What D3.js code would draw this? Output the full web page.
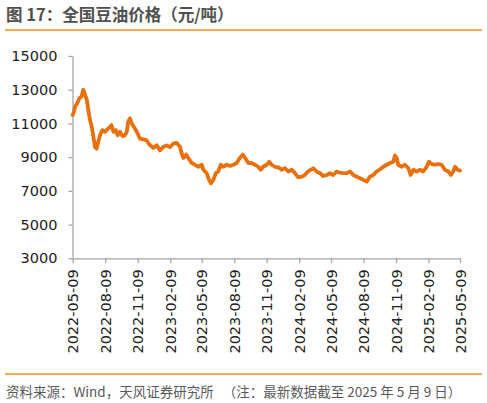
<!DOCTYPE html>
<html>
<head>
<meta charset="utf-8">
<script src="https://cdn.jsdelivr.net/npm/d3@7.9.0/dist/d3.min.js"></script>
<style>
  body { margin: 0; background: #fff; }
  svg { display: block; }
</style>
</head>
<body>
<div id="chart"></div>
<script>
// 全国豆油价格 (元/吨)
const dates = [
  '2022-05-09','2022-05-13','2022-05-16','2022-05-22','2022-05-28','2022-06-03','2022-06-08','2022-06-13',
  '2022-06-18','2022-06-22','2022-06-27','2022-07-02','2022-07-06','2022-07-11','2022-07-16','2022-07-20',
  '2022-07-27','2022-08-01','2022-08-08','2022-08-15','2022-08-23','2022-08-27','2022-09-01','2022-09-08',
  '2022-09-13','2022-09-20','2022-09-27','2022-10-04','2022-10-09','2022-10-13','2022-10-18','2022-10-23',
  '2022-10-29','2022-11-04','2022-11-11','2022-11-15','2022-11-25','2022-12-04','2022-12-12','2022-12-23',
  '2023-01-02','2023-01-11','2023-01-20','2023-01-30','2023-02-08','2023-02-18','2023-02-27','2023-03-09',
  '2023-03-13','2023-03-18','2023-03-26','2023-04-01','2023-04-11','2023-04-20','2023-04-29','2023-05-09',
  '2023-05-14','2023-05-23','2023-05-30','2023-06-04','2023-06-11','2023-06-18','2023-06-25','2023-07-02',
  '2023-07-09','2023-07-19','2023-07-28','2023-08-07','2023-08-16','2023-08-25','2023-09-02','2023-09-09',
  '2023-09-18','2023-09-27','2023-10-07','2023-10-16','2023-10-23','2023-10-30','2023-11-09','2023-11-16',
  '2023-11-23','2023-12-02','2023-12-12','2023-12-21','2023-12-31','2024-01-09','2024-01-19','2024-01-28',
  '2024-02-06','2024-02-16','2024-02-25','2024-03-05','2024-03-20','2024-03-29','2024-04-08','2024-04-17',
  '2024-04-27','2024-05-06','2024-05-15','2024-05-25','2024-06-03','2024-06-13','2024-06-22','2024-07-02',
  '2024-07-11','2024-07-21','2024-07-30','2024-08-08','2024-08-18','2024-08-27','2024-09-06','2024-09-15',
  '2024-09-25','2024-10-04','2024-10-14','2024-10-23','2024-11-01','2024-11-06','2024-11-11','2024-11-15',
  '2024-11-25','2024-12-04','2024-12-14','2024-12-20','2024-12-28','2025-01-06','2025-01-16','2025-01-25',
  '2025-02-04','2025-02-10','2025-02-18','2025-02-27','2025-03-09','2025-03-18','2025-03-27','2025-04-06',
  '2025-04-13','2025-04-20','2025-04-25','2025-05-02','2025-05-09'
];
const prices = [
  11500,11700,12000,12200,12500,12600,13000,12700,
  12400,11800,11200,10800,10300,9600,9500,9900,
  10400,10600,10500,10650,10800,10900,10500,10600,
  10300,10500,10250,10300,10500,11100,11300,11000,
  10800,10600,10300,10100,10050,10000,9750,9550,
  9700,9400,9600,9700,9600,9800,9850,9600,
  9250,8950,9150,8950,8650,8550,8430,8550,
  8250,8050,7650,7450,7650,8050,8150,8550,
  8430,8550,8480,8550,8650,8950,9150,8950,
  8650,8650,8550,8430,8250,8430,8550,8730,
  8550,8430,8400,8250,8340,8150,8250,8050,
  7800,7840,7940,8150,8340,8150,8050,7880,
  7940,8050,7940,8150,8080,8050,8050,8150,
  7940,7840,7750,7650,7550,7840,7940,8150,
  8280,8430,8550,8650,8730,9100,8950,8550,
  8430,8550,8340,7940,8250,8150,8250,8150,
  8430,8730,8590,8550,8590,8550,8250,8150,
  7940,8150,8430,8250,8200
];
const xTicks = [
  '2022-05-09','2022-08-09','2022-11-09','2023-02-09','2023-05-09','2023-08-09','2023-11-09',
  '2024-02-09','2024-05-09','2024-08-09','2024-11-09','2025-02-09','2025-05-09'
];
const yTicks = [3000, 5000, 7000, 9000, 11000, 13000, 15000];

const title = '图 17：全国豆油价格（元/吨）';
const source = '资料来源：Wind，天风证券研究所   （注：最新数据截至 2025 年 5 月 9 日）';

const width = 487;
const height = 403;
const parse = d3.timeParse('%Y-%m-%d');

const svg = d3.select('#chart')
  .append('svg')
  .attr('width', width)
  .attr('height', height);

const xScale = d3.scaleTime()
  .domain([parse(xTicks[0]), parse(xTicks[xTicks.length - 1])])
  .range([72.7, 460]);

const yScale = d3.scaleLinear().domain([3000, 15000]).range([258.3, 56]);

// title + orange rules
svg.append('text')
  .attr('x', 6).attr('y', 20.5)
  .attr('font-family', 'Noto Sans CJK SC')
  .attr('font-size', 16.5).attr('font-weight', 'bold')
  .attr('fill', '#505050')
  .text(title);

svg.append('line')
  .attr('x1', 5).attr('x2', 482).attr('y1', 30).attr('y2', 30)
  .attr('stroke', '#F7931E').attr('stroke-width', 1.5);

svg.append('line')
  .attr('x1', 5).attr('x2', 482).attr('y1', 374).attr('y2', 374)
  .attr('stroke', '#F7931E').attr('stroke-width', 1.5);

svg.append('text')
  .attr('x', 6).attr('y', 396.5)
  .attr('font-family', 'Noto Sans CJK SC')
  .attr('font-size', 13.5)
  .attr('fill', '#595959')
  .style('white-space', 'pre')
  .text(source);

// axes
const yAxis = svg.append('g')
  .attr('transform', 'translate(72.5,0)')
  .call(d3.axisLeft(yScale).tickValues(yTicks).tickFormat(d3.format('d'))
    .tickSize(4).tickSizeOuter(0).tickPadding(11));

const xAxis = svg.append('g')
  .attr('transform', 'translate(0,258.3)')
  .call(d3.axisBottom(xScale).tickValues(xTicks.map(parse))
    .tickFormat(d3.timeFormat('%Y-%m-%d')).tickSize(5).tickSizeOuter(0));

xAxis.selectAll('text')
  .attr('transform', 'rotate(-90)')
  .attr('x', -11).attr('y', 0).attr('dy', '0.35em')
  .attr('text-anchor', 'end');

[yAxis, xAxis].forEach(g => {
  g.selectAll('path, line').attr('stroke', '#A6A6A6').attr('stroke-width', 1.3);
  g.selectAll('text')
    .attr('font-family', 'DejaVu Sans')
    .attr('font-size', 14.5)
    .attr('fill', '#222');
});

// price line
const line = d3.line()
  .x((d, i) => xScale(parse(dates[i])))
  .y(d => yScale(d));

svg.append('path')
  .datum(prices)
  .attr('d', line)
  .attr('fill', 'none')
  .attr('stroke', '#E8710E')
  .attr('stroke-width', 3.8)
  .attr('stroke-linejoin', 'round')
  .attr('stroke-linecap', 'round');
</script>
</body>
</html>
